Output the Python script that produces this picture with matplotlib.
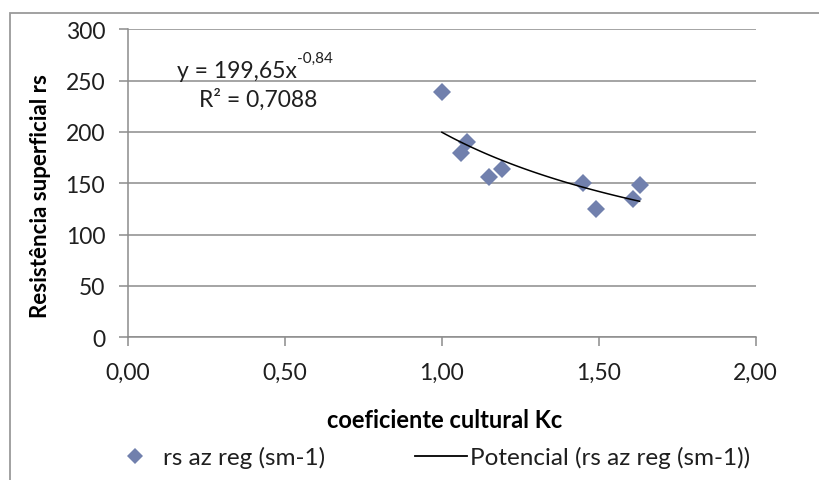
import numpy as np
import matplotlib
matplotlib.use("Agg")
import matplotlib.pyplot as plt
from matplotlib.patches import Rectangle
from matplotlib.lines import Line2D

plt.rcParams['font.family'] = ['Lato', 'DejaVu Sans']

# ---- data ----
kc = [1.00, 1.06, 1.08, 1.15, 1.19, 1.45, 1.49, 1.61, 1.63]
rs = [239, 179, 190, 156, 164, 150, 125, 135, 148]
fit_a = 199.65
fit_b = -0.84
x_ticks = [0.0, 0.5, 1.0, 1.5, 2.0]
x_tick_labels = ['0,00', '0,50', '1,00', '1,50', '2,00']
y_ticks = [0, 50, 100, 150, 200, 250, 300]
series_label = 'rs az reg (sm-1)'
trend_label = 'Potencial (rs az reg (sm-1))'
eq_text = 'y = 199,65x'
eq_exp = '-0,84'
r2_text = 'R² = 0,7088'

W, H = 820, 481
fig = plt.figure(figsize=(W / 100, H / 100), dpi=100)
fig.patch.set_facecolor('white')

# outer chart border (cut at right & bottom)
fig.patches.append(Rectangle((10 / W, -0.2), 1.2, (H - 14) / H + 0.2,
                             transform=fig.transFigure, fill=False,
                             edgecolor='#9a9a9a', linewidth=1.3, clip_on=False))

left, right = 128.1 / W, 755.7 / W
bottom, top = 1 - 338.3 / H, 1 - 30.2 / H
ax = fig.add_axes([left, bottom, right - left, top - bottom])

marker_color = '#7180ad'
ax.plot(kc, rs, linestyle='none', marker='D', markersize=9.6,
        color=marker_color, markeredgewidth=0, zorder=3)

xf = np.linspace(min(kc), max(kc), 100)
ax.plot(xf, fit_a * xf ** fit_b, color='black', linewidth=1.1, zorder=4)

ax.set_xlim(0, 2.0)
ax.set_ylim(0, 300)
ax.set_xticks(x_ticks)
ax.set_xticklabels(x_tick_labels)
ax.set_yticks(y_ticks)

grid_color = '#8c8c8c'
ax.yaxis.grid(True, color=grid_color, linewidth=1.1)
ax.set_axisbelow(True)
for s in ['top', 'right']:
    ax.spines[s].set_visible(False)
for s in ['left', 'bottom']:
    ax.spines[s].set_color(grid_color)
    ax.spines[s].set_linewidth(1.1)

tick_fs = 16.5
ax.tick_params(axis='both', colors=grid_color, labelcolor='#1f1f1f',
               labelsize=tick_fs, length=6.5, width=1.1, direction='out')
ax.tick_params(axis='y', pad=10)
ax.tick_params(axis='x', pad=11)

ax.set_xlabel('coeficiente cultural Kc', fontsize=17, fontweight='bold', color='black')
ax.xaxis.set_label_coords(0.505, (338.3 - 421) / 308.1)
ax.xaxis.label.set_va('center')
ax.set_ylabel('Resistência superficial rs', fontsize=16, fontweight='bold', color='black')
ax.yaxis.set_label_coords((40 - 128.1) / 627.6, (338.3 - 196) / 308.1)
ax.yaxis.label.set_va('center')

# trendline equation
t1 = fig.text(177 / W, 1 - 71 / H, eq_text, fontsize=16.5, color='#1f1f1f',
              ha='left', va='center')
ax.annotate(eq_exp, xy=(1.0, 0.72), xycoords=t1, fontsize=11, color='#1f1f1f',
            ha='left', va='bottom')
fig.text(199 / W, 1 - 100 / H, r2_text, fontsize=16.5, color='#1f1f1f',
         ha='left', va='center')

handles = [Line2D([], [], linestyle='none', marker='D', markersize=8.5,
                  color=marker_color, markeredgewidth=0),
           Line2D([], [], color='black', linewidth=1.3)]
fig.legend(handles, [series_label, trend_label], loc='center',
           bbox_to_anchor=((104 + 755) / 2 / W, 1 - 458 / H),
           ncol=2, frameon=False, fontsize=17.5, handlelength=2.14,
           handletextpad=0.1, columnspacing=3.7, borderpad=0,
           labelcolor='#1f1f1f')

fig.savefig('out.png', dpi=100, facecolor='white')
